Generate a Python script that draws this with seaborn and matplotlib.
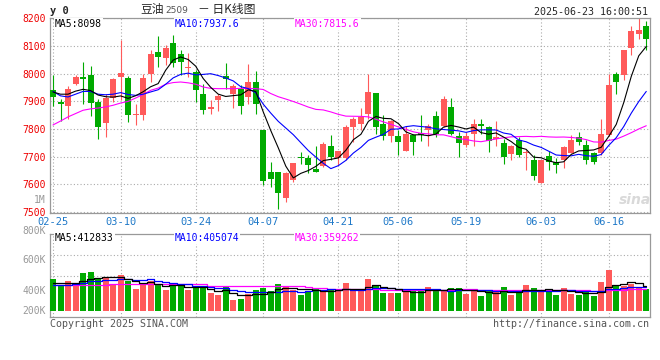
import numpy as np
import pandas as pd
import matplotlib
matplotlib.use("Agg")
import matplotlib.pyplot as plt
import seaborn as sns

# daily K-line data for 豆油2509, 2025-02-25 .. 2025-06-23
open_ = [7940, 7898, 7882, 7964, 7988, 7994, 7898, 7822, 7914, 7988,
         7986, 7850, 7850, 8000, 8078, 8055, 8111, 8070, 8020, 8006,
         7926, 7874, 7904, 7991, 7926, 7946, 7916, 7970, 7796, 7645,
         7645, 7553, 7618, 7696, 7696, 7655, 7666, 7738, 7694, 7694,
         7806, 7818, 7854, 7930, 7820, 7774, 7774, 7720, 7778, 7786,
         7796, 7846, 7810, 7878, 7774, 7742, 7784, 7818, 7806, 7763,
         7750, 7709, 7760, 7714, 7690, 7606, 7702, 7682, 7690, 7714,
         7770, 7742, 7712, 7714, 7778, 7998, 7994, 8091, 8145, 8172]
high = [7994, 7907, 7957, 7994, 8042, 8027, 7907, 7928, 7986, 8121,
        7991, 7890, 7998, 8085, 8135, 8105, 8141, 8087, 8075, 8012,
        7964, 7904, 7926, 8039, 7964, 7958, 8034, 8010, 7796, 7682,
        7645, 7645, 7678, 7718, 7706, 7738, 7754, 7778, 7720, 7814,
        7844, 7876, 7998, 7930, 7850, 7832, 7796, 7810, 7784, 7850,
        7818, 7866, 7919, 7912, 7790, 7790, 7838, 7836, 7810, 7829,
        7766, 7742, 7770, 7724, 7708, 7690, 7721, 7694, 7738, 7778,
        7790, 7760, 7718, 7835, 7998, 8006, 8087, 8171, 8200, 8190]
low = [7882, 7829, 7838, 7958, 7892, 7846, 7766, 7770, 7898, 7904,
       7826, 7814, 7832, 7970, 8024, 8030, 8024, 7994, 7988, 7898,
       7853, 7854, 7866, 7946, 7876, 7856, 7890, 7854, 7597, 7591,
       7513, 7537, 7609, 7673, 7642, 7645, 7664, 7688, 7670, 7690,
       7754, 7796, 7835, 7784, 7760, 7754, 7706, 7720, 7706, 7757,
       7738, 7772, 7808, 7778, 7700, 7736, 7738, 7784, 7718, 7738,
       7673, 7688, 7700, 7652, 7618, 7604, 7652, 7642, 7661, 7712,
       7742, 7673, 7673, 7706, 7774, 7926, 7976, 8069, 8127, 8085]
close = [7916, 7889, 7944, 7988, 7981, 7894, 7808, 7914, 7980, 8003,
         7850, 7855, 7986, 8070, 8060, 8091, 8039, 8042, 8024, 7940,
         7868, 7880, 7919, 7982, 7955, 7882, 7970, 7890, 7612, 7619,
         7570, 7640, 7678, 7694, 7670, 7645, 7745, 7700, 7720, 7808,
         7836, 7842, 7934, 7808, 7774, 7829, 7754, 7784, 7754, 7778,
         7810, 7784, 7910, 7784, 7750, 7774, 7818, 7810, 7756, 7772,
         7700, 7738, 7706, 7719, 7630, 7690, 7682, 7672, 7736, 7762,
         7754, 7690, 7682, 7784, 7958, 7970, 8085, 8153, 8157, 8127]
volume = [536000, 412000, 507000, 429000, 637000, 659000, 553000, 570000, 439000, 603000,
          497000, 367000, 468000, 497000, 439000, 355000, 423000, 439000, 355000, 395000,
          384000, 299000, 265000, 401000, 186000, 203000, 287000, 355000, 384000, 338000,
          451000, 423000, 345000, 270000, 311000, 367000, 338000, 367000, 328000, 468000,
          355000, 355000, 536000, 439000, 299000, 299000, 299000, 328000, 328000, 367000,
          401000, 328000, 355000, 384000, 384000, 287000, 328000, 254000, 328000, 316000,
          401000, 270000, 299000, 434000, 384000, 350000, 350000, 270000, 384000, 287000,
          270000, 311000, 254000, 485000, 688000, 423000, 412000, 451000, 395000, 372000]

# moving-average values at the left edge (they depend on earlier sessions)
ma5_head = [7934, 7926, 7926, 7937]
ma10_head = [7936, 7920, 7916, 7926, 7936, 7936, 7926, 7924, 7926]
ma30_head = [7815, 7829, 7844, 7856, 7868, 7873, 7876, 7880, 7886, 7894,
             7900, 7912, 7925, 7940, 7948, 7962, 7968, 7970, 7967, 7962,
             7952, 7947, 7946, 7946, 7946, 7947, 7947, 7946, 7943]
vol_ma5_head = [468000, 468000, 470000, 472000]
vol_ma10_head = [439000, 439000, 441000, 445000, 468000, 500000, 507000, 515000, 524000]
vol_ma30_head = [433000, 433000, 433000, 433000, 433000, 433000, 433000, 433000, 443000, 443000,
                 443000, 443000, 443000, 443000, 443000, 443000, 443000, 443000, 443000, 443000,
                 443000, 425000, 425000, 425000, 425000, 425000, 425000, 425000, 415000]

date_idx = [0, 9, 19, 28, 38, 46, 55, 65, 74]
date_labels = ["02-25", "03-10", "03-24", "04-07", "04-21", "05-06", "05-19", "06-03", "06-16"]
price_ticks = [7500, 7600, 7700, 7800, 7900, 8000, 8100, 8200]
vol_tick_labels = ["800K", "600K", "400K", "200K"]


def moving_avg(values, n, head):
    s = pd.Series(values, dtype=float).rolling(n).mean()
    s.iloc[:len(head)] = head
    return s.to_numpy()


df = pd.DataFrame({"open": open_, "high": high, "low": low, "close": close, "vol": volume})
df["idx"] = np.arange(len(df))
df["dir"] = np.where(df["close"] >= df["open"], "up", "down")
ma5 = moving_avg(close, 5, ma5_head)
ma10 = moving_avg(close, 10, ma10_head)
ma30 = moving_avg(close, 30, ma30_head)
vma5 = moving_avg(volume, 5, vol_ma5_head)
vma10 = moving_avg(volume, 10, vol_ma10_head)
vma30 = moving_avg(volume, 30, vol_ma30_head)

RED = "#ff5a5a"
GREEN = "#00aa00"
GRID = "#aaaaaa"
BORDER = "#999999"
MONO = ["DejaVu Sans Mono", "Noto Sans CJK SC"]
CJK = ["Noto Sans CJK SC", "DejaVu Sans"]

sns.set_style("white")
plt.rcParams["font.family"] = MONO

W, H = 660, 360
fig = plt.figure(figsize=(W / 100, H / 100), dpi=100)


def fx(x):
    return x / W


def fy(y):
    return 1 - y / H


axp = fig.add_axes([fx(50), fy(213.3), fx(649.5) - fx(50), fy(18.3) - fy(213.3)])
axv = fig.add_axes([fx(50), fy(317.3), fx(649.5) - fx(50), fy(234) - fy(317.3)])
colors = np.where(df["dir"] == "up", RED, GREEN)

# --- price panel ---
body_lo = np.minimum(df["open"], df["close"])
body_h = np.maximum(np.abs(df["close"] - df["open"]), 3.6)
axp.vlines(df["idx"], df["low"], df["high"], colors=colors, linewidth=0.8, zorder=2)
axp.bar(df["idx"], body_h, bottom=body_lo, width=0.8, color=colors, linewidth=0, zorder=3)
sns.lineplot(x=df["idx"], y=ma30, ax=axp, color="#ff00ff", linewidth=0.8, zorder=4)
sns.lineplot(x=df["idx"], y=ma10, ax=axp, color="#0000ff", linewidth=0.8, zorder=4)
sns.lineplot(x=df["idx"], y=ma5, ax=axp, color="black", linewidth=0.8, zorder=4)
axp.set_xlim(-0.4, 79.43)
axp.set_ylim(7496, 8200)
axp.set_yticks(price_ticks, [str(t) for t in price_ticks])
axp.set_xticks(date_idx, date_labels)
axp.tick_params(axis="y", length=0, pad=3, labelsize=7, labelcolor="#ee0000")
axp.tick_params(axis="x", length=0, pad=3, labelsize=7.5, labelcolor="#1e78c8")
axp.set_xlabel("")
axp.set_ylabel("")

# --- volume panel ---
axv.bar(df["idx"], df["vol"], width=0.8, color=colors, linewidth=0, zorder=3)
for line, col in [(vma30, "#ff00ff"), (vma10, "#0000ff"), (vma5, "black")]:
    sns.lineplot(x=df["idx"], y=line, ax=axv, color=col, linewidth=0.9,
                 drawstyle="steps-mid", zorder=4)
px_per_vol = 16900.0
axv.set_xlim(-0.4, 79.43)
axv.set_ylim(-6.6 * px_per_vol, 76.7 * px_per_vol)
axv.set_xticks(date_idx, [""] * len(date_idx))
axv.set_yticks([])
axv.tick_params(length=0)
axv.set_xlabel("")
axv.set_ylabel("")

for ax in (axp, axv):
    ax.set_axisbelow(True)
    ax.grid(axis="x", linestyle=(0, (1, 2)), color=GRID, linewidth=0.8)
    for sp in ax.spines.values():
        sp.set_color(BORDER)
        sp.set_linewidth(0.9)
axp.grid(axis="y", linestyle=(0, (1, 2)), color=GRID, linewidth=0.8)
lo, hi = axv.get_ylim()
for f in (0.5, 0.75):
    axv.axhline(lo + f * (hi - lo), linestyle=(0, (1, 2)), color=GRID, linewidth=0.8, zorder=1)

# --- texts ---
fig.text(fx(50), fy(11), "y 0", fontsize=7.5, fontweight="bold", va="center", ha="left")
fig.text(fx(140), fy(10), "豆油", family=CJK, fontsize=8.5, va="center", ha="left")
fig.text(fx(165), fy(10.5), "2509", family=["DejaVu Sans"], fontsize=6.5, color="#555555",
         va="center", ha="left")
fig.text(fx(198), fy(10), "－ 日K线图", family=CJK, fontsize=8.5, va="center", ha="left")
fig.text(fx(648), fy(12), "2025-06-23 16:00:51", fontsize=7.2, va="center", ha="right")

box = dict(facecolor="white", edgecolor="none", pad=0.6)
fig.text(fx(55), fy(24), "MA5:8098", fontsize=7, color="black", va="center", bbox=box)
fig.text(fx(174.5), fy(24), "MA10:7937.6", fontsize=7, color="#0000ff", va="center", bbox=box)
fig.text(fx(295), fy(24), "MA30:7815.6", fontsize=7, color="#ff00ff", va="center", bbox=box)
fig.text(fx(46), fy(200), "1M", fontsize=7, color="#999999", va="center", ha="right")

fig.text(fx(55), fy(238), "MA5:412833", fontsize=7, color="black", va="center", bbox=box)
fig.text(fx(174.7), fy(238), "MA10:405074", fontsize=7, color="#0000ff", va="center", bbox=box)
fig.text(fx(294.7), fy(238), "MA30:359262", fontsize=7, color="#ff00ff", va="center", bbox=box)
for lab, y in zip(vol_tick_labels, [231, 260, 290.7, 311]):
    fig.text(fx(46), fy(y), lab, fontsize=7, color="#999999", va="center", ha="right")

fig.text(fx(50), fy(324), "Copyright 2025 SINA.COM", fontsize=7.2, color="#555555",
         va="center", ha="left")
fig.text(fx(649), fy(324), "http://finance.sina.com.cn", fontsize=7.2, color="#555555",
         va="center", ha="right")
fig.text(fx(651), fy(200), "sina", family=["DejaVu Sans"], fontsize=10, fontweight="bold",
         fontstyle="italic", color="#d9d9d9", va="center", ha="right")

fig.savefig("out.png", dpi=100)
